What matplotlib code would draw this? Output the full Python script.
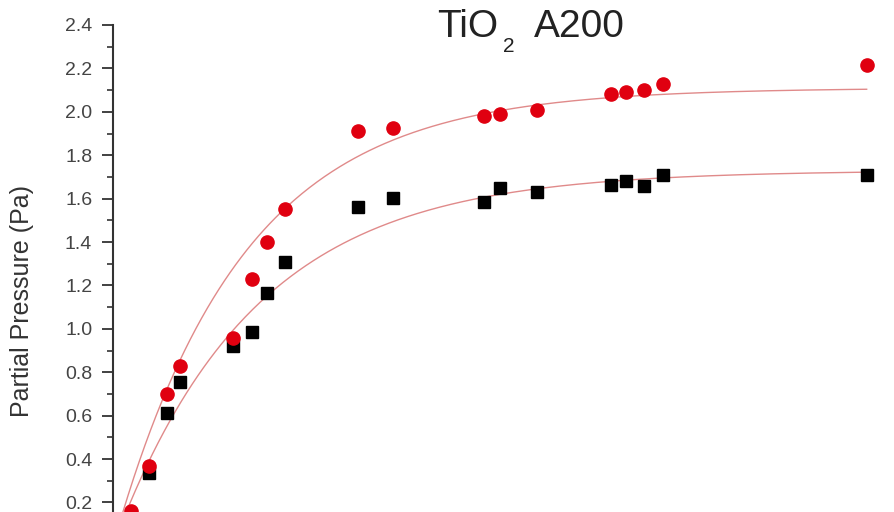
import numpy as np
import matplotlib
matplotlib.use("Agg")
import matplotlib.pyplot as plt
from matplotlib.ticker import MultipleLocator, FormatStrFormatter

# Dosing amount (arbitrary units) and measured partial pressures
dose = [2.3, 4.6, 6.9, 8.6, 15.4, 17.8, 19.7, 22.0, 31.4, 35.9,
        47.5, 49.6, 54.3, 63.8, 65.7, 68.0, 70.4, 96.5]
p_red = [0.16, 0.37, 0.70, 0.83, 0.96, 1.23, 1.40, 1.55, 1.91, 1.925,
         1.98, 1.99, 2.01, 2.08, 2.09, 2.10, 2.13, 2.215]
dose_black = dose[1:]
p_black = [0.335, 0.61, 0.755, 0.92, 0.985, 1.165, 1.31, 1.56, 1.605,
           1.585, 1.65, 1.63, 1.665, 1.68, 1.66, 1.71, 1.71]

# Exponential-association fits y = A * (1 - exp(-x / t)): (A, t)
fit_red = (2.11, 16.5)
fit_black = (1.73, 18.0)

# Title pieces: formula, subscript, sample name
title_main = "TiO"
title_sub = "2"
title_tail = "A200"
ylabel = "Partial Pressure (Pa)"

plt.rcParams["font.family"] = ["Liberation Sans", "DejaVu Sans"]

fig = plt.figure(figsize=(8.94, 5.12), dpi=100)
ax = fig.add_axes([113 / 894, 0.0, 1 - 113 / 894, 1 - 25 / 512])

fit_color = "#e08a8a"
for xs, (amp, tau) in ((dose, fit_red), (dose_black, fit_black)):
    xx = np.linspace(0, max(xs), 400)
    ax.plot(xx, amp * (1 - np.exp(-xx / tau)), color=fit_color, lw=1.0, zorder=1)

ax.plot(dose_black, p_black, ls="none", marker="s", ms=8.5, color="black", zorder=3)
ax.plot(dose, p_red, ls="none", marker="o", ms=9.5, color="#e00010", zorder=4)

ax.set_xlim(0, 100)
ax.set_ylim(0.156, 2.4)
ax.yaxis.set_major_locator(MultipleLocator(0.2))
ax.yaxis.set_minor_locator(MultipleLocator(0.1))
ax.yaxis.set_major_formatter(FormatStrFormatter("%.1f"))
for s in ("top", "right", "bottom"):
    ax.spines[s].set_visible(False)
ax.spines["left"].set_linewidth(1.5)
ax.spines["left"].set_color("#333333")
ax.tick_params(axis="x", bottom=False, labelbottom=False)
ax.tick_params(axis="y", which="major", direction="out", length=8, width=1.3,
               colors="#333333", labelsize=14, pad=7)
ax.tick_params(axis="y", which="minor", direction="out", length=4, width=1.2,
               colors="#333333")
for lab in ax.get_yticklabels():
    lab.set_color("#444444")

fig.text(22 / 894, 1 - 301 / 512, ylabel, rotation=90, ha="center", va="center",
         fontsize=18, color="#333333")

title_color = "#222222"
fig.text(437 / 894, 1 - 37 / 512, title_main, ha="left", va="baseline",
         fontsize=28, color=title_color)
fig.text(503 / 894, 1 - 52 / 512, title_sub, ha="left", va="baseline",
         fontsize=15, color=title_color)
fig.text(534 / 894, 1 - 37 / 512, title_tail, ha="left", va="baseline",
         fontsize=28, color=title_color)

fig.savefig("out.png", dpi=100, facecolor="white")
